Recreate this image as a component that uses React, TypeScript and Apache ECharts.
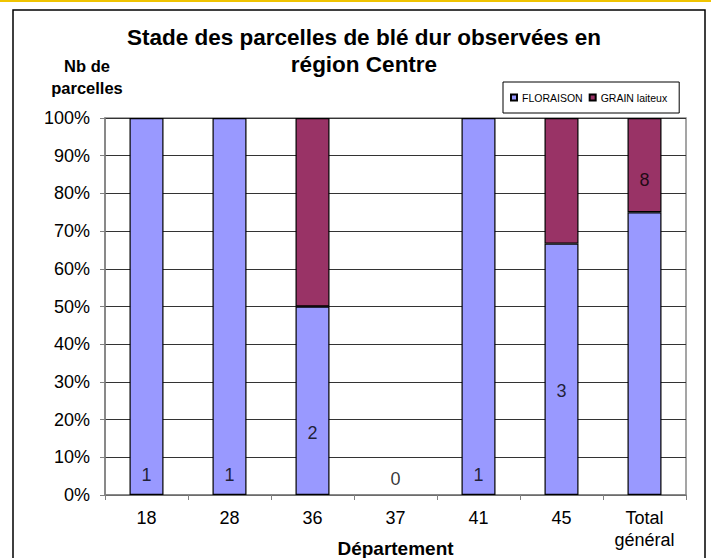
import React, { useEffect, useRef } from "react";
import * as echarts from "echarts";

const categories = ["18", "28", "36", "37", "41", "45", "Total\ngénéral"];
const floraisonCounts = [1, 1, 1, 0, 1, 2, 6];
const grainCounts = [0, 0, 1, 0, 0, 1, 2];
// height (as share of 100%) where each total-count label sits in the picture
const labelLevels = [0.053, 0.053, 0.165, 0.043, 0.053, 0.277, 0.835];
const yTicks = [0, 0.1, 0.2, 0.3, 0.4, 0.5, 0.6, 0.7, 0.8, 0.9, 1];

const FONT = "'Liberation Sans', Arial, sans-serif";

export default function App() {
  const ref = useRef<HTMLDivElement>(null);

  useEffect(() => {
    document.body.style.margin = "0";
    if (!ref.current) return;
    const chart = echarts.init(ref.current, undefined, { renderer: "svg" });

    const totals = floraisonCounts.map((f, i) => f + grainCounts[i]);
    const flo = floraisonCounts.map((f, i) => (totals[i] && f ? f / totals[i] : "-"));
    const gra = grainCounts.map((g, i) => (totals[i] && g ? g / totals[i] : "-"));

    chart.setOption({
      animation: false,
      backgroundColor: "#fff",
      textStyle: { fontFamily: FONT },
      title: [
        {
          text: "Stade des parcelles de blé dur observées en\nrégion Centre",
          left: 359,
          textAlign: "center",
          top: 19,
          textStyle: {
            fontFamily: FONT,
            fontSize: 22.5,
            fontWeight: "bold",
            color: "#000",
            lineHeight: 27,
          },
        },
        {
          text: "Nb de\nparcelles",
          left: 82,
          textAlign: "center",
          top: 50,
          textStyle: {
            fontFamily: FONT,
            fontSize: 16.5,
            fontWeight: "bold",
            color: "#000",
            lineHeight: 22,
          },
        },
      ],
      legend: {
        left: 503,
        top: 82,
        padding: [10, 12, 10, 7],
        itemWidth: 6,
        itemHeight: 6,
        itemGap: 6,
        borderColor: "#000",
        borderWidth: 1,
        backgroundColor: "#fff",
        textStyle: { fontFamily: FONT, fontSize: 10.5, color: "#000" },
        data: [
          { name: "FLORAISON", icon: "rect" },
          { name: "GRAIN laiteux", icon: "rect" },
        ],
      },
      grid: {
        left: 105,
        right: 25,
        top: 118,
        bottom: 63,
        outerBoundsMode: "none",
        containLabel: false,
        show: true,
        borderColor: "#888",
        borderWidth: 1.5,
        backgroundColor: "transparent",
      },
      xAxis: {
        type: "category",
        data: categories,
        name: "Département",
        nameLocation: "middle",
        nameGap: 44,
        nameMoveOverlap: false,
        nameTextStyle: { fontFamily: FONT, fontSize: 19, fontWeight: "bold", color: "#000" },
        axisLine: { lineStyle: { color: "#808080", width: 1.5 } },
        axisTick: { show: true, alignWithLabel: false, length: 5, lineStyle: { color: "#808080" } },
        axisLabel: {
          fontFamily: FONT,
          fontSize: 18,
          color: "#000",
          margin: 12,
          lineHeight: 22,
          interval: 0,
        },
      },
      yAxis: {
        type: "value",
        min: 0,
        max: 1,
        interval: 0.1,
        axisLine: { show: true, lineStyle: { color: "#808080", width: 1.5 } },
        axisTick: { show: true, length: 5, lineStyle: { color: "#808080" } },
        axisLabel: {
          fontFamily: FONT,
          fontSize: 18,
          color: "#000",
          margin: 15,
          formatter: (v: number) => {
            const t = yTicks.find((x) => Math.abs(x - v) < 1e-9);
            return Math.round((t ?? v) * 100) + "%";
          },
        },
        splitLine: { show: true, lineStyle: { color: "#333", width: 1 } },
      },
      series: [
        {
          name: "FLORAISON",
          type: "bar",
          stack: "s",
          barWidth: 34,
          data: flo,
          itemStyle: { color: "#9999ff", borderColor: "#000", borderWidth: 1.2 },
        },
        {
          name: "GRAIN laiteux",
          type: "bar",
          stack: "s",
          barWidth: 34,
          data: gra,
          itemStyle: { color: "#993366", borderColor: "#000", borderWidth: 1.2 },
        },
        {
          name: "labels",
          type: "scatter",
          symbolSize: 1,
          itemStyle: { color: "rgba(0,0,0,0)" },
          silent: true,
          z: 5,
          data: labelLevels.map((y, i) => [i, y]),
          label: {
            show: true,
            position: "inside",
            formatter: (p: any) => String(totals[p.dataIndex]),
            fontFamily: FONT,
            fontSize: 18,
            color: "#000",
          },
          labelLayout: { hideOverlap: false },
        },
      ],
      graphic: [
        {
          type: "rect",
          shape: { x: 0, y: 0, width: 711, height: 2 },
          style: { fill: "#f0c400" },
          silent: true,
        },
        {
          type: "rect",
          shape: { x: 13, y: 10, width: 692, height: 560 },
          style: { fill: "none", stroke: "#000", lineWidth: 1.5 },
          silent: true,
          z: -1,
        },
      ],
    });

    return () => chart.dispose();
  }, []);

  return <div ref={ref} style={{ width: 711, height: 558 }} />;
}
